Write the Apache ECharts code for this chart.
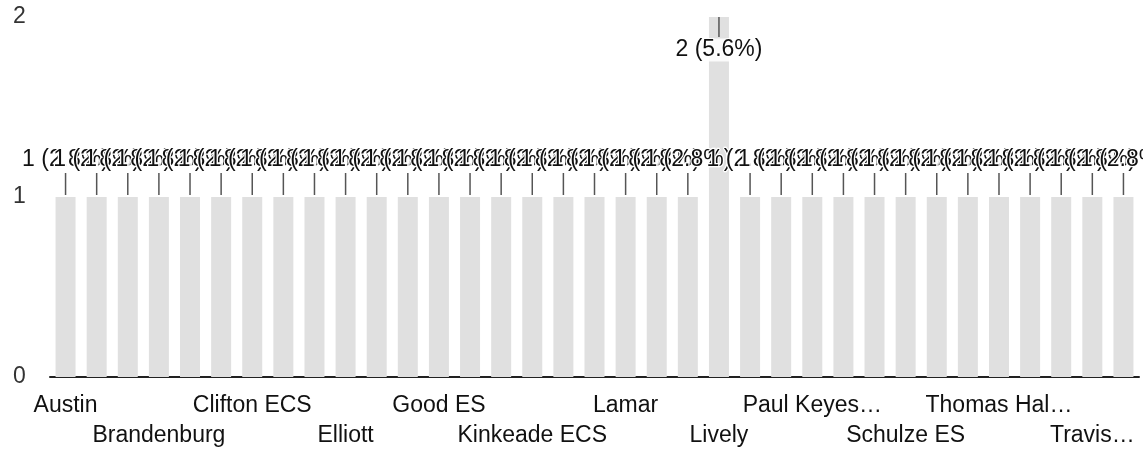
<!DOCTYPE html>
<html>
<head>
<meta charset="utf-8">
<script src="https://cdn.jsdelivr.net/npm/echarts@6/dist/echarts.min.js"></script>
<style>
html,body{margin:0;padding:0;background:#fff;}
#c{width:1143px;height:449px;}
</style>
</head>
<body>
<div id="c"></div>
<script>
// Categories (every third label is visible in the reference; hidden ones are placeholders)
var categories = [
  "Austin", "Barton", "Bowie",
  "Brandenburg", "Britain", "Brown",
  "Clifton ECS", "Davis", "Delaney",
  "Elliott", "Farine", "Gilbert",
  "Good ES", "Hanes", "Johnston",
  "Kinkeade ECS", "Kyle", "Lady Bird",
  "Lamar", "Lee", "Lee ECS",
  "Lively", "Nimitz", "Otis Brown",
  "Paul Keyes…", "Reagan", "Sam Houston",
  "Schulze ES", "Stipes", "Terry",
  "Thomas Hal…", "Thomas Jefferson", "Townley",
  "Travis…", "Union Bower"
];
var values = [
  1, 1, 1, 1, 1, 1, 1, 1, 1, 1,
  1, 1, 1, 1, 1, 1, 1, 1, 1, 1,
  1, 2, 1, 1, 1, 1, 1, 1, 1, 1,
  1, 1, 1, 1, 1
];
var yTicks = [0, 1, 2];

var total = values.reduce(function (a, b) { return a + b; }, 0);
var yMax = yTicks[yTicks.length - 1];
var FONT = "'Liberation Sans', Arial, sans-serif";

function pct(v) { return (v / total * 100).toFixed(1) + '%'; }

var seriesData = values.map(function (v) {
  var item = { value: v };
  if (v >= yMax) {
    item.label = {
      position: 'insideTop',
      distance: 0,
      formatter: function (p) { return '{l|}\n{t|' + p.value + ' (' + pct(p.value) + ')}'; },
      rich: {
        l: { width: 1.5, height: 20, lineHeight: 20, backgroundColor: '#555', align: 'center' },
        t: { fontSize: 23, lineHeight: 26, color: '#111', fontFamily: FONT, align: 'center',
             backgroundColor: 'rgba(255,255,255,0.85)', textBorderColor: '#fff', textBorderWidth: 2 }
      }
    };
  }
  return item;
});

function makeXAxis(row) {
  return {
    type: 'category',
    data: categories,
    position: 'bottom',
    offset: row * 30,
    axisLine: { show: row === 0, lineStyle: { color: '#222', width: 2 } },
    axisTick: { show: false },
    splitLine: { show: false },
    axisLabel: {
      interval: function (idx) { return idx % 6 === row * 3; },
      showMinLabel: row === 0 ? true : null,
      showMaxLabel: true,
      hideOverlap: false,
      margin: 17,
      fontSize: 23,
      lineHeight: 23,
      color: '#111',
      fontFamily: FONT
    }
  };
}

var chart = echarts.init(document.getElementById('c'), null, { renderer: 'canvas' });
chart.setOption({
  animation: false,
  backgroundColor: '#ffffff',
  grid: { left: 50, right: 4, top: 17, bottom: 72, containLabel: false },
  xAxis: [makeXAxis(0), makeXAxis(1)],
  yAxis: {
    type: 'value',
    min: yTicks[0],
    max: yMax,
    interval: 1,
    axisLine: { show: false },
    axisTick: { show: false },
    splitLine: { show: false },
    axisLabel: {
      align: 'left',
      margin: 37,
      fontSize: 23,
      color: '#333',
      fontFamily: FONT
    }
  },
  series: [{
    type: 'bar',
    xAxisIndex: 0,
    data: seriesData,
    barWidth: 20,
    itemStyle: { color: '#e0e0e0' },
    label: {
      show: true,
      position: 'top',
      distance: 2,
      formatter: function (p) { return '{t|' + p.value + ' (' + pct(p.value) + ')}\n{l|}'; },
      rich: {
        t: { fontSize: 23, lineHeight: 26, color: '#111', fontFamily: FONT, align: 'center',
             textBorderColor: '#fff', textBorderWidth: 2.5 },
        l: { width: 1.5, height: 22, lineHeight: 22, backgroundColor: '#555', align: 'center' }
      }
    }
  }]
});
</script>
</body>
</html>
